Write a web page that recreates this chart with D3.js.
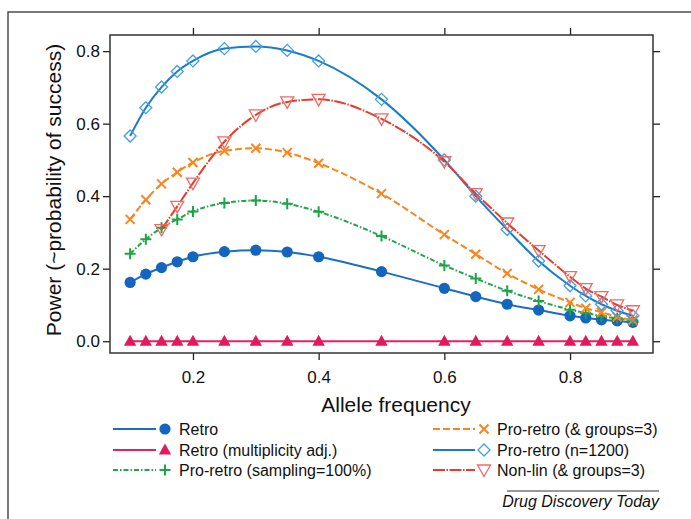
<!DOCTYPE html>
<html lang="en">
<head>
<meta charset="UTF-8">
<title>Power vs allele frequency</title>
<script src="https://cdn.jsdelivr.net/npm/d3@7"></script>
<style>
  body { margin: 0; background: #fff; }
  text { font-family: "Liberation Sans", Arial, sans-serif; fill: #111; }
</style>
</head>
<body>
<svg id="viz"></svg>
<script>
// Data ---
const alleleFreq = [0.1, 0.125, 0.15, 0.175, 0.2, 0.25, 0.3, 0.35, 0.4, 0.5, 0.6, 0.65, 0.7, 0.75, 0.8, 0.825, 0.85, 0.875, 0.9];
const retro = [0.162, 0.185, 0.203, 0.219, 0.233, 0.247, 0.251, 0.246, 0.233, 0.192, 0.146, 0.123, 0.102, 0.086, 0.070, 0.064, 0.059, 0.056, 0.052];
const retroAdj = [0, 0, 0, 0, 0, 0, 0, 0, 0, 0, 0, 0, 0, 0, 0, 0, 0, 0, 0];
const proRetroSampling = [0.241, 0.281, 0.313, 0.336, 0.358, 0.381, 0.388, 0.379, 0.357, 0.290, 0.209, 0.173, 0.139, 0.111, 0.087, 0.078, 0.069, 0.063, 0.057];
const proRetroGroups = [0.336, 0.390, 0.434, 0.466, 0.493, 0.525, 0.532, 0.520, 0.491, 0.407, 0.294, 0.240, 0.187, 0.143, 0.107, 0.091, 0.080, 0.067, 0.058];
const proRetroN1200 = [0.566, 0.644, 0.701, 0.744, 0.773, 0.807, 0.813, 0.802, 0.773, 0.667, 0.500, 0.400, 0.308, 0.221, 0.153, 0.125, 0.102, 0.084, 0.070];
const nonLinGroups = [null, null, 0.308, 0.372, 0.436, 0.550, 0.624, 0.660, 0.667, 0.613, 0.495, 0.407, 0.326, 0.250, 0.178, 0.145, 0.123, 0.100, 0.084];

const xTicks = [0.2, 0.4, 0.6, 0.8];
const yTicks = [0.0, 0.2, 0.4, 0.6, 0.8];

const seriesNames = ['Retro', 'Retro (multiplicity adj.)', 'Pro-retro (sampling=100%)',
  'Pro-retro (& groups=3)', 'Pro-retro (n=1200)', 'Non-lin (& groups=3)'];
const seriesValues = [retro, retroAdj, proRetroSampling, proRetroGroups, proRetroN1200, nonLinGroups];

// Styles ---
const styles = [
  { line: '#1b6ec2', dash: null, marker: 'circle', mfill: '#1465bd', mstroke: 'none' },
  { line: '#e91e63', dash: null, marker: 'triUp', mfill: '#e3195f', mstroke: 'none' },
  { line: '#22a64a', dash: '5,2,1.5,2', marker: 'plus', mfill: 'none', mstroke: '#1fa347' },
  { line: '#f7861f', dash: '7,3', marker: 'x', mfill: 'none', mstroke: '#f7861f' },
  { line: '#1a7cc9', dash: null, marker: 'diamond', mfill: 'none', mstroke: '#3fa0e6' },
  { line: '#ea3a2c', dash: '12,1.5,1.5,1.5', marker: 'triDown', mfill: 'none', mstroke: '#f06a62' }
];

const markerPaths = {
  plus: 'M-5.5,0H5.5M0,-5.5V5.5',
  x: 'M-4.5,-4.5L4.5,4.5M-4.5,4.5L4.5,-4.5',
  diamond: 'M0,-6L6,0L0,6L-6,0Z',
  triUp: 'M0,-6.5L6.2,4.5L-6.2,4.5Z',
  triDown: 'M-6.5,-5L6.5,-5L0,6.5Z'
};

// Chart dimensions ---
const svgWidth = 691, svgHeight = 519;
const panel = { left: 110, top: 35, right: 653, bottom: 353 };

const svg = d3.select('#viz')
  .attr('width', svgWidth)
  .attr('height', svgHeight);

// outer figure frame
svg.append('rect')
  .attr('x', 8).attr('y', 12)
  .attr('width', 720).attr('height', 600)
  .attr('fill', 'none').attr('stroke', '#333').attr('stroke-width', 1.3);

// Scales ---
const x = d3.scaleLinear().domain([0.068, 0.932]).range([panel.left, panel.right]);
const y = d3.scaleLinear().domain([-0.0325, 0.8445]).range([panel.bottom, panel.top]);

// Axes ---
const tickLen = 7;
svg.append('g')
  .attr('transform', `translate(0,${panel.bottom})`)
  .call(d3.axisBottom(x).tickValues(xTicks).tickSize(tickLen).tickPadding(11).tickFormat(d3.format('.1f')));
svg.append('g')
  .attr('transform', `translate(0,${panel.top})`)
  .call(d3.axisTop(x).tickValues(xTicks).tickSize(tickLen).tickFormat(''));
svg.append('g')
  .attr('transform', `translate(${panel.left},0)`)
  .call(d3.axisLeft(y).tickValues(yTicks).tickSize(tickLen).tickPadding(3).tickFormat(d3.format('.1f')));
svg.append('g')
  .attr('transform', `translate(${panel.right},0)`)
  .call(d3.axisRight(y).tickValues(yTicks).tickSize(tickLen).tickFormat(''));

svg.selectAll('.domain').remove();
svg.selectAll('.tick line').attr('stroke', '#222').attr('stroke-width', 1.3);
svg.selectAll('.tick text')
  .style('font-size', '17px')
  .style('font-family', '"Liberation Sans", Arial, sans-serif')
  .attr('fill', '#111');

svg.append('rect')
  .attr('x', panel.left).attr('y', panel.top)
  .attr('width', panel.right - panel.left).attr('height', panel.bottom - panel.top)
  .attr('fill', 'none').attr('stroke', '#333').attr('stroke-width', 1.5);

// Axis titles ---
svg.append('text')
  .attr('x', 396).attr('y', 412)
  .attr('text-anchor', 'middle')
  .style('font-size', '21px')
  .text('Allele frequency');

svg.append('text')
  .attr('transform', 'translate(61,190) rotate(-90)')
  .attr('text-anchor', 'middle')
  .style('font-size', '21px')
  .text('Power (~probability of success)');

// Series ---
const line = d3.line()
  .defined(d => d.v !== null)
  .x(d => x(d.f))
  .y(d => y(d.v))
  .curve(d3.curveMonotoneX);

function drawMarker(g, type, st) {
  if (type === 'circle') {
    g.append('circle').attr('r', 5.6).attr('fill', st.mfill);
  } else {
    g.append('path')
      .attr('d', markerPaths[type])
      .attr('fill', st.mfill)
      .attr('stroke', st.mstroke === 'none' ? null : st.mstroke)
      .attr('stroke-width', type === 'plus' || type === 'x' ? 2 : 1.3);
  }
}

seriesValues.forEach((vals, i) => {
  const st = styles[i];
  const pts = alleleFreq.map((f, j) => ({ f, v: vals[j] }));
  const g = svg.append('g');
  g.append('path')
    .attr('d', line(pts))
    .attr('fill', 'none')
    .attr('stroke', st.line)
    .attr('stroke-width', 2)
    .attr('stroke-dasharray', st.dash);
  pts.filter(d => d.v !== null).forEach(d => {
    const m = g.append('g').attr('transform', `translate(${x(d.f)},${y(d.v)})`);
    drawMarker(m, st.marker, st);
  });
});

// Legend ---
const legendCols = [
  { lineX0: 113, lineX1: 156, markerX: 165, textX: 179 },
  { lineX0: 433, lineX1: 475, markerX: 484, textX: 497 }
];
const legendRows = [429, 450, 470];

seriesNames.forEach((name, i) => {
  const col = legendCols[Math.floor(i / 3)];
  const ry = legendRows[i % 3];
  const st = styles[i];
  const g = svg.append('g');
  g.append('line')
    .attr('x1', col.lineX0).attr('x2', col.lineX1)
    .attr('y1', ry).attr('y2', ry)
    .attr('stroke', st.line).attr('stroke-width', 2)
    .attr('stroke-dasharray', st.dash);
  const m = g.append('g').attr('transform', `translate(${col.markerX},${ry})`);
  drawMarker(m, st.marker, st);
  g.append('text')
    .attr('x', col.textX).attr('y', ry + 6)
    .style('font-size', '16px')
    .text(name);
});

// Source credit ---
svg.append('line')
  .attr('x1', 507).attr('x2', 659)
  .attr('y1', 491).attr('y2', 491)
  .attr('stroke', '#333').attr('stroke-width', 1);
svg.append('text')
  .attr('x', 659).attr('y', 507)
  .attr('text-anchor', 'end')
  .style('font-size', '16px')
  .style('font-style', 'italic')
  .text('Drug Discovery Today');
</script>
</body>
</html>
